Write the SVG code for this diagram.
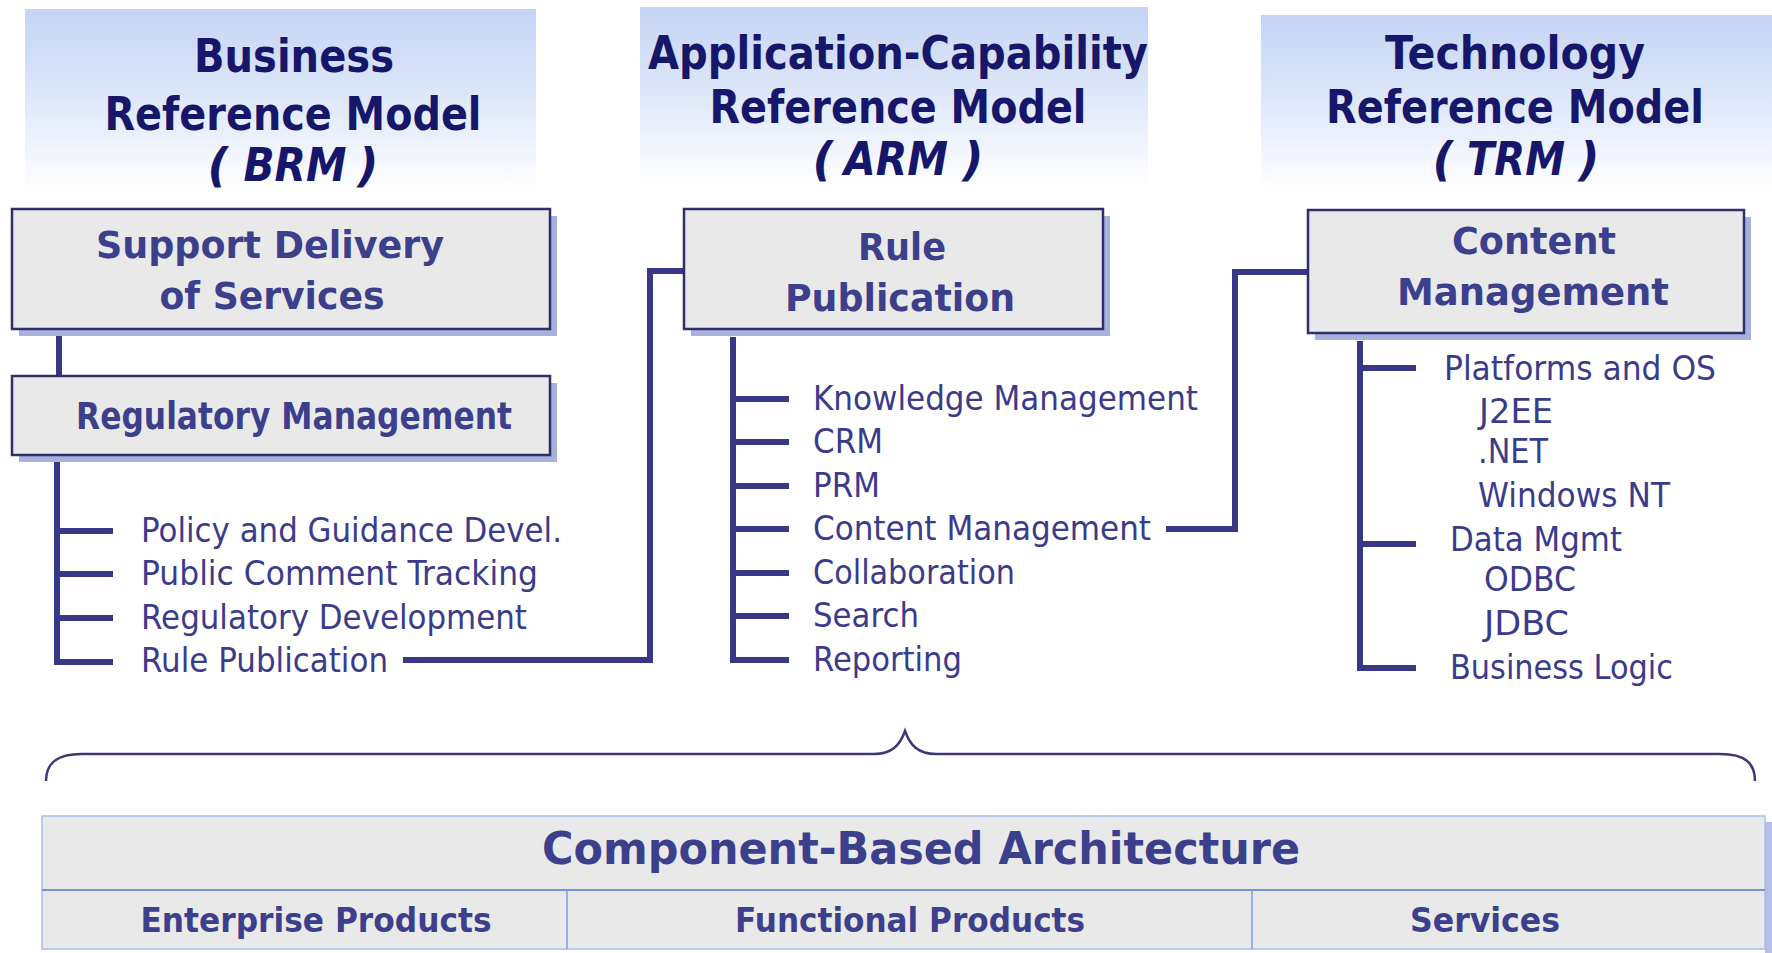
<svg xmlns="http://www.w3.org/2000/svg" width="1772" height="953" viewBox="0 0 1772 953">
<defs>
<linearGradient id="hdr" x1="0" y1="0" x2="0" y2="1">
<stop offset="0" stop-color="#c4d4f4"/>
<stop offset="0.55" stop-color="#e2eafa"/>
<stop offset="1" stop-color="#ffffff"/>
</linearGradient>
<style>
.hdr{font-family:"DejaVu Sans",Verdana,sans-serif;font-weight:bold;font-size:46px;fill:#16166a;text-anchor:middle}
.hdri{font-style:italic}
.box{fill:#e9e9e9;stroke:#2f2f6e;stroke-width:2.5}
.shadow{fill:#a7b1dc}
.bt{font-family:"DejaVu Sans",Verdana,sans-serif;font-weight:bold;font-size:37px;fill:#3b3f8c;text-anchor:middle}
.it{font-family:"DejaVu Sans",Verdana,sans-serif;font-size:33px;fill:#3b3b8c}
.ln{fill:none;stroke:#383888;stroke-width:6;stroke-linecap:butt;stroke-linejoin:miter}
.brace{fill:none;stroke:#3a3a78;stroke-width:2.5}
.tb{fill:#e9e9e9;stroke:#aabce6;stroke-width:1.5}
.tt{font-family:"DejaVu Sans",Verdana,sans-serif;font-weight:bold;fill:#3b3f8c;text-anchor:middle}
</style>
</defs>
<rect width="1772" height="953" fill="#ffffff"/>

<g id="brm-header">
<rect x="25" y="9" width="511" height="183" fill="url(#hdr)"/>
<text class="hdr" x="294" y="72" textLength="200" lengthAdjust="spacingAndGlyphs">Business</text>
<text class="hdr" x="293" y="130" textLength="377" lengthAdjust="spacingAndGlyphs">Reference Model</text>
<text class="hdr hdri" x="218" y="181">(</text>
<text class="hdr hdri" x="295" y="181" textLength="103" lengthAdjust="spacingAndGlyphs">BRM</text>
<text class="hdr hdri" x="368" y="181">)</text>
</g>
<g id="arm-header">
<rect x="640" y="7" width="508" height="179" fill="url(#hdr)"/>
<text class="hdr" x="898" y="69" textLength="500" lengthAdjust="spacingAndGlyphs">Application-Capability</text>
<text class="hdr" x="898" y="123" textLength="377" lengthAdjust="spacingAndGlyphs">Reference Model</text>
<text class="hdr hdri" x="823" y="175">(</text>
<text class="hdr hdri" x="896" y="175" textLength="104" lengthAdjust="spacingAndGlyphs">ARM</text>
<text class="hdr hdri" x="973" y="175">)</text>
</g>
<g id="trm-header">
<rect x="1261" y="15" width="511" height="176" fill="url(#hdr)"/>
<text class="hdr" x="1515" y="69" textLength="260" lengthAdjust="spacingAndGlyphs">Technology</text>
<text class="hdr" x="1515" y="123" textLength="378" lengthAdjust="spacingAndGlyphs">Reference Model</text>
<text class="hdr hdri" x="1443" y="175">(</text>
<text class="hdr hdri" x="1516" y="175" textLength="98" lengthAdjust="spacingAndGlyphs">TRM</text>
<text class="hdr hdri" x="1589" y="175">)</text>
</g>

<g id="connectors">
<path class="ln" d="M59,329 V376"/>
<path class="ln" d="M57,455 V665 M57,531 H113 M57,574 H113 M57,618 H113 M54,662 H113"/>
<path class="ln" d="M403,660 H650 V271 H684"/>
<path class="ln" d="M733,337 V663 M733,399 H789 M733,442 H789 M733,486 H789 M733,529 H789 M733,573 H789 M733,616 H789 M730,660 H789"/>
<path class="ln" d="M1166,529 H1235 V272 H1308"/>
<path class="ln" d="M1360,341 V671 M1360,368 H1416 M1360,544 H1416 M1357,668 H1416"/>
<path class="brace" d="M46,781 C46,763 57,754 82,754 L874,754 C892,754 900,745 905,731 C910,745 918,754 936,754 L1720,754 C1745,754 1755,763 1755,781"/>
</g>

<g id="support-delivery">
<rect class="shadow" x="19" y="216" width="538" height="120"/>
<rect class="box" x="12" y="209" width="538" height="120"/>
<text class="bt" x="270" y="258" textLength="348" lengthAdjust="spacingAndGlyphs">Support Delivery</text>
<text class="bt" x="272" y="309" textLength="225" lengthAdjust="spacingAndGlyphs">of Services</text>
</g>
<g id="regulatory-management">
<rect class="shadow" x="19" y="383" width="538" height="79"/>
<rect class="box" x="12" y="376" width="538" height="79"/>
<text class="bt" x="294" y="429" textLength="436" lengthAdjust="spacingAndGlyphs">Regulatory Management</text>
</g>
<g id="rule-publication">
<rect class="shadow" x="691" y="216" width="419" height="120"/>
<rect class="box" x="684" y="209" width="419" height="120"/>
<text class="bt" x="902" y="260" textLength="88" lengthAdjust="spacingAndGlyphs">Rule</text>
<text class="bt" x="900" y="311" textLength="230" lengthAdjust="spacingAndGlyphs">Publication</text>
</g>
<g id="content-management">
<rect class="shadow" x="1315" y="217" width="436" height="123"/>
<rect class="box" x="1308" y="210" width="436" height="123"/>
<text class="bt" x="1534" y="254" textLength="164" lengthAdjust="spacingAndGlyphs">Content</text>
<text class="bt" x="1533" y="305" textLength="272" lengthAdjust="spacingAndGlyphs">Management</text>
</g>

<g id="brm-items">
<text class="it" x="141" y="542" textLength="421" lengthAdjust="spacingAndGlyphs">Policy and Guidance Devel.</text>
<text class="it" x="141" y="585" textLength="397" lengthAdjust="spacingAndGlyphs">Public Comment Tracking</text>
<text class="it" x="141" y="629" textLength="386" lengthAdjust="spacingAndGlyphs">Regulatory Development</text>
<text class="it" x="141" y="672" textLength="247" lengthAdjust="spacingAndGlyphs">Rule Publication</text>
</g>
<g id="arm-items">
<text class="it" x="813" y="410" textLength="385" lengthAdjust="spacingAndGlyphs">Knowledge Management</text>
<text class="it" x="813" y="453" textLength="70" lengthAdjust="spacingAndGlyphs">CRM</text>
<text class="it" x="813" y="497" textLength="67" lengthAdjust="spacingAndGlyphs">PRM</text>
<text class="it" x="813" y="540" textLength="338" lengthAdjust="spacingAndGlyphs">Content Management</text>
<text class="it" x="813" y="584" textLength="202" lengthAdjust="spacingAndGlyphs">Collaboration</text>
<text class="it" x="813" y="627" textLength="106" lengthAdjust="spacingAndGlyphs">Search</text>
<text class="it" x="813" y="671" textLength="149" lengthAdjust="spacingAndGlyphs">Reporting</text>
</g>
<g id="trm-items">
<text class="it" x="1444" y="380" textLength="272" lengthAdjust="spacingAndGlyphs">Platforms and OS</text>
<text class="it" x="1479" y="423" textLength="74" lengthAdjust="spacingAndGlyphs">J2EE</text>
<text class="it" x="1478" y="463" textLength="70" lengthAdjust="spacingAndGlyphs">.NET</text>
<text class="it" x="1478" y="507" textLength="192" lengthAdjust="spacingAndGlyphs">Windows NT</text>
<text class="it" x="1450" y="551" textLength="172" lengthAdjust="spacingAndGlyphs">Data Mgmt</text>
<text class="it" x="1484" y="591" textLength="92" lengthAdjust="spacingAndGlyphs">ODBC</text>
<text class="it" x="1484" y="635" textLength="85" lengthAdjust="spacingAndGlyphs">JDBC</text>
<text class="it" x="1450" y="679" textLength="223" lengthAdjust="spacingAndGlyphs">Business Logic</text>
</g>

<g id="component-architecture">
<rect x="1765" y="822" width="7" height="131" fill="#b4bee6"/>
<rect class="tb" x="42" y="816" width="1723" height="133"/>
<line x1="42" y1="890" x2="1765" y2="890" stroke="#7391dc" stroke-width="2"/>
<line x1="567" y1="890" x2="567" y2="949" stroke="#7f9be0" stroke-width="1.5"/>
<line x1="1252" y1="890" x2="1252" y2="949" stroke="#7f9be0" stroke-width="1.5"/>
<text class="tt" x="921" y="864" font-size="45" textLength="758" lengthAdjust="spacingAndGlyphs">Component-Based Architecture</text>
<text class="tt" x="316" y="932" font-size="34" textLength="351" lengthAdjust="spacingAndGlyphs">Enterprise Products</text>
<text class="tt" x="910" y="932" font-size="34" textLength="350" lengthAdjust="spacingAndGlyphs">Functional Products</text>
<text class="tt" x="1485" y="932" font-size="34" textLength="150" lengthAdjust="spacingAndGlyphs">Services</text>
</g>
</svg>
